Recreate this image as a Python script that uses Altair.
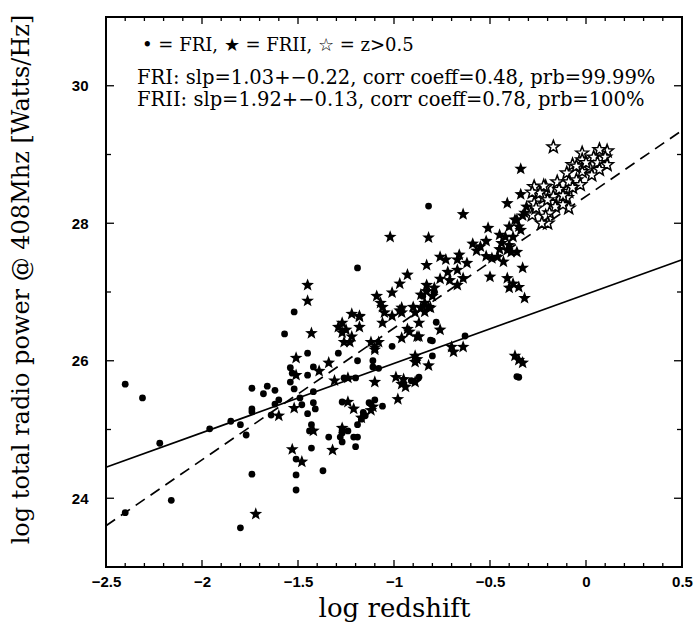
import altair as alt
import pandas as pd
import numpy as np

# ---------------- data ----------------
FRI = [(-2.40, 25.66), (-2.31, 25.46), (-2.22, 24.80), (-2.16, 23.97), (-2.40, 23.79),
       (-1.96, 25.01), (-1.85, 25.12), (-1.80, 25.07), (-1.77, 24.92), (-1.74, 25.60),
       (-1.74, 25.30), (-1.74, 25.26), (-1.68, 25.52), (-1.66, 25.63), (-1.62, 25.57),
       (-1.62, 25.37), (-1.60, 25.43), (-1.64, 25.21), (-1.74, 24.35), (-1.80, 23.57),
       (-1.57, 26.39), (-1.54, 25.90), (-1.53, 25.82), (-1.54, 25.69), (-1.52, 25.59),
       (-1.45, 26.11), (-1.45, 25.79), (-1.42, 25.91), (-1.49, 25.46), (-1.48, 25.36),
       (-1.45, 25.23), (-1.42, 25.55), (-1.42, 25.39), (-1.41, 25.30), (-1.43, 25.07),
       (-1.44, 24.98), (-1.43, 24.73), (-1.51, 24.34), (-1.51, 24.12), (-1.37, 24.40),
       (-1.34, 24.89), (-1.29, 26.11), (-1.27, 25.40), (-1.27, 24.95), (-1.27, 24.82),
       (-1.51, 24.57), (-1.19, 26.00), (-1.11, 26.00), (-1.11, 25.91), (-1.08, 25.89),
       (-1.01, 26.21), (-0.80, 26.29), (-0.80, 26.07), (-1.12, 25.37), (-1.10, 25.43),
       (-1.06, 25.34), (-1.16, 25.25), (-1.17, 25.15), (-1.19, 25.07), (-1.27, 24.99),
       (-1.24, 24.98), (-1.28, 24.89), (-1.21, 24.89), (-1.19, 24.89), (-1.20, 24.75),
       (-0.85, 26.94), (-0.79, 26.99), (-0.78, 26.56), (-0.81, 26.30), (-0.63, 26.36),
       (-0.87, 25.76), (-0.91, 25.71), (-0.36, 25.77), (-0.35, 25.76), (-0.82, 28.25),
       (-1.19, 27.35), (-1.52, 26.71), (-1.20, 25.75), (-1.26, 25.75), (-1.15, 25.20),
       (-1.13, 25.39)]

FRII = [(-1.72, 23.77), (-1.53, 24.71), (-1.48, 24.53), (-1.32, 24.70), (-1.42, 24.98),
        (-1.27, 25.02), (-1.60, 25.20), (-1.52, 25.31), (-1.24, 25.40), (-1.21, 25.30),
        (-1.12, 25.28), (-1.17, 25.17), (-0.98, 25.44), (-1.11, 25.33),
        (-1.51, 26.04), (-1.51, 25.79), (-1.39, 25.85), (-1.34, 25.97), (-1.31, 25.71),
        (-1.24, 25.75), (-1.43, 26.40), (-1.27, 26.41), (-1.26, 26.27), (-1.23, 26.27),
        (-1.22, 26.35), (-1.12, 26.27), (-1.08, 26.27), (-1.10, 26.19), (-0.96, 26.33),
        (-0.88, 26.35), (-0.92, 26.42), (-1.10, 25.69), (-0.99, 25.76), (-0.96, 25.66),
        (-0.89, 25.69), (-0.89, 25.98), (-0.82, 25.93), (-0.89, 26.07), (-0.88, 26.02),
        (-0.95, 25.73), (-0.94, 25.62),
        (-1.09, 26.94), (-1.01, 26.99), (-1.06, 26.78), (-1.05, 26.70), (-1.01, 26.65),
        (-1.06, 26.55), (-0.96, 26.77), (-0.96, 26.70), (-0.90, 26.78), (-0.89, 26.70),
        (-0.84, 26.84), (-0.81, 26.77), (-0.86, 26.77), (-0.87, 26.55), (-0.93, 26.46),
        (-0.87, 26.35), (-0.76, 26.45), (-1.10, 26.16), (-1.18, 26.64), (-1.18, 26.49),
        (-0.70, 26.20), (-0.69, 26.13), (-0.64, 26.20),
        (-1.45, 27.10), (-1.45, 26.87), (-1.22, 26.68), (-1.18, 26.65), (-1.27, 26.55),
        (-1.25, 26.45), (-1.29, 26.49),
        (-1.02, 27.80), (-0.93, 27.25), (-0.83, 27.39), (-0.97, 27.12), (-1.07, 26.84),
        (-0.97, 26.73), (-0.86, 26.96), (-0.83, 27.01), (-0.80, 26.94), (-0.82, 26.78),
        (-0.84, 26.71),
        (-0.64, 28.13), (-0.82, 27.79), (-0.41, 28.29), (-0.34, 28.42), (-0.51, 27.93),
        (-0.59, 27.70), (-0.57, 27.60), (-0.52, 27.74), (-0.45, 27.83), (-0.44, 27.71),
        (-0.40, 27.95), (-0.37, 28.05), (-0.34, 27.90), (-0.38, 27.80), (-0.33, 28.11),
        (-0.31, 28.24), (-0.39, 27.58), (-0.36, 27.58),
        (-0.66, 27.54), (-0.76, 27.51), (-0.73, 27.47), (-0.67, 27.47), (-0.62, 27.42),
        (-0.52, 27.52), (-0.49, 27.49), (-0.46, 27.51), (-0.67, 27.32), (-0.72, 27.29),
        (-0.64, 27.20), (-0.76, 27.19), (-0.71, 27.17), (-0.67, 27.10), (-0.50, 27.22),
        (-0.83, 27.10), (-0.79, 27.06), (-0.41, 27.20), (-0.40, 27.06), (-0.35, 27.07),
        (-0.33, 27.35), (-0.32, 26.91), (-0.38, 27.12),
        (-0.34, 28.79), (-0.37, 26.07), (-0.35, 26.01), (-0.33, 25.97),
        (-0.32, 28.15), (-0.36, 28.05), (-0.35, 27.95), (-0.42, 27.80), (-0.40, 27.68),
        (-0.41, 27.61), (-0.45, 27.62), (-0.43, 27.44), (-0.55, 27.66)]

HIGHZ = [(-0.17, 29.11), (0.11, 29.05), (0.07, 29.07), (0.04, 28.96), (0.10, 28.96),
         (0.11, 28.85), (-0.02, 29.02), (-0.02, 28.92), (-0.07, 28.85), (0.06, 28.88),
         (0.02, 28.80), (-0.02, 28.75), (0.07, 28.78), (0.03, 28.70), (-0.10, 28.73),
         (-0.09, 28.60), (-0.05, 28.63), (-0.03, 28.56), (-0.15, 28.60), (-0.14, 28.49),
         (-0.09, 28.46), (-0.07, 28.52), (-0.10, 28.37), (-0.14, 28.34), (-0.17, 28.39),
         (-0.16, 28.24), (-0.09, 28.22), (-0.21, 28.53), (-0.22, 28.37), (-0.19, 28.15),
         (-0.21, 28.10), (-0.20, 28.00), (-0.23, 28.00), (-0.27, 28.53), (-0.22, 28.54),
         (-0.24, 28.44), (-0.20, 28.34), (-0.27, 28.29), (-0.28, 28.45), (-0.28, 28.12),
         (-0.26, 28.22), (-0.12, 28.40), (-0.12, 28.27), (-0.05, 28.83), (0.00, 28.88)]

FIT_X = [-2.5, 0.5]
FRI_FIT_Y = [24.45, 27.47]
FRII_FIT_Y = [23.60, 29.35]

X_LABELS = [-2.5, -2.0, -1.5, -1.0, -0.5, 0.0, 0.5]
Y_LABELS = [24, 26, 28, 30]
Y_MINOR = [25, 27, 29]
X_MINOR = [float(v) for v in np.round(np.arange(-2.4, 0.5, 0.1), 1) if abs(v * 2 - round(v * 2)) > 1e-6]

LEGEND = "\u2022 = FRI, \u2605 = FRII, \u2606 = z>0.5"
LINE1 = "FRI: slp=1.03+\u22120.22, corr coeff=0.48, prb=99.99%"
LINE2 = "FRII: slp=1.92+\u22120.13, corr coeff=0.78, prb=100%"

STAR = ("M0,-1L0.247,-0.34L0.951,-0.309L0.399,0.13L0.588,0.809L0,0.42"
        "L-0.588,0.809L-0.399,0.13L-0.951,-0.309L-0.247,-0.34Z")

# ---------------- chart ----------------
W, H = 576, 550
xs = alt.Scale(domain=[-2.5, 0.5], nice=False, zero=False)
ys = alt.Scale(domain=[23, 31], nice=False, zero=False)

fri_df = pd.DataFrame(FRI, columns=["x", "y"])
frii_df = pd.DataFrame(FRII, columns=["x", "y"])
hz_df = pd.DataFrame(HIGHZ, columns=["x", "y"])

x_axis = alt.Axis(values=X_LABELS, format="~g", ticks=False, tickSize=0, domain=False, grid=False,
                  labelFont="Liberation Sans", labelFontWeight="bold", labelFontSize=15,
                  labelColor="black", labelPadding=7, labelFlush=False,
                  title="log redshift", titleFont="DejaVu Serif", titleFontSize=26,
                  titleFontWeight="normal", titleColor="black", titleX=288, titleY=49,
                  titleAlign="center", titleBaseline="alphabetic")
y_axis = alt.Axis(values=Y_LABELS, format="d", ticks=False, tickSize=0, domain=False, grid=False,
                  labelFont="Liberation Sans", labelFontWeight="bold", labelFontSize=15,
                  labelColor="black", labelPadding=18,
                  title="log total radio power @ 408Mhz [Watts/Hz]", titleFont="DejaVu Serif",
                  titleFontSize=24, titleFontWeight="normal", titleColor="black",
                  titleAngle=270, titleX=-78, titleY=262, titleAlign="center",
                  titleBaseline="alphabetic")


def X(field):
    return alt.X(field, scale=xs, axis=x_axis)


def Y(field):
    return alt.Y(field, scale=ys, axis=y_axis)


dots = alt.Chart(fri_df).mark_point(shape="circle", filled=True, size=46, color="black", opacity=1).encode(
    x=X("x:Q"), y=Y("y:Q"))

stars = alt.Chart(frii_df).mark_point(shape=STAR, filled=True, size=180, color="black", opacity=1).encode(
    x=X("x:Q"), y=Y("y:Q"))

open_stars = alt.Chart(hz_df).mark_point(shape=STAR, filled=True, size=175, fill="white",
                                         stroke="black", strokeWidth=1.5, opacity=1).encode(
    x=X("x:Q"), y=Y("y:Q"))

fit_df = pd.DataFrame({"x": FIT_X, "fri": FRI_FIT_Y, "frii": FRII_FIT_Y})
fri_line = alt.Chart(fit_df).mark_line(color="black", strokeWidth=1.7).encode(
    x=X("x:Q"), y=Y("fri:Q"))
frii_line = alt.Chart(fit_df).mark_line(color="black", strokeWidth=1.7, strokeDash=[11, 7]).encode(
    x=X("x:Q"), y=Y("frii:Q"))


def xticks(vals, length, top):
    y0, y1 = (0, length) if top else (H, H - length)
    return alt.Chart(pd.DataFrame({"x": vals})).mark_rule(color="black", strokeWidth=1.3).encode(
        x=X("x:Q"), y=alt.value(y0), y2=alt.value(y1))


def yticks(vals, length, right):
    x0, x1 = (W, W - length) if right else (0, length)
    return alt.Chart(pd.DataFrame({"y": vals})).mark_rule(color="black", strokeWidth=1.3).encode(
        y=Y("y:Q"), x=alt.value(x0), x2=alt.value(x1))


ticks = [xticks(X_LABELS, 7, False), xticks(X_MINOR, 4, False),
         xticks(X_LABELS, 7, True), xticks(X_MINOR, 4, True),
         yticks(Y_LABELS, 8, False), yticks(Y_MINOR, 5, False),
         yticks(Y_LABELS, 8, True), yticks(Y_MINOR, 5, True)]


def label(text, px, py, size):
    return alt.Chart(pd.DataFrame({"t": [text]})).mark_text(
        align="left", baseline="middle", font="DejaVu Serif", fontSize=size, color="black").encode(
        text="t:N", x=alt.value(px), y=alt.value(py))


texts = [label(LEGEND, 36, 29, 18), label(LINE1, 31, 61, 19.5), label(LINE2, 31, 83, 19.5)]

chart = alt.layer(dots, fri_line, frii_line, stars, open_stars, *ticks, *texts).properties(
    width=W, height=H,
    padding={"left": 106, "top": 17, "right": 13, "bottom": 55},
    autosize=alt.AutoSizeParams(type="none"),
).configure_view(stroke="black", strokeWidth=2)

chart.save("out.html", embed_options={"renderer": "svg", "actions": False})
